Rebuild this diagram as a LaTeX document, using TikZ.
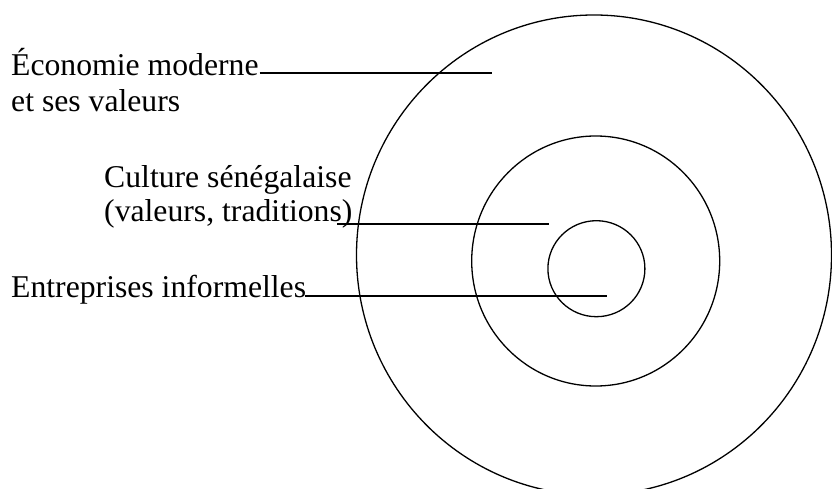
\documentclass[tikz,border=0pt]{standalone}
\usepackage{fontspec}
\setmainfont{Liberation Serif}
\begin{document}
\begin{tikzpicture}[x=1pt,y=-1pt,
  lbl/.style={anchor=base west,inner sep=0pt,font=\fontsize{31.7}{36}\selectfont},
  ring/.style={line width=1.3pt,draw=black},
  leader/.style={line width=2pt,draw=black}]
\useasboundingbox (0,0) rectangle (832,489);
\clip (0,0) rectangle (832,489);
\fill[white] (0,0) rectangle (832,489);
% rings
\draw[ring] (594,255) ellipse [x radius=237.5pt, y radius=240pt];
\draw[ring] (595.7,261) ellipse [x radius=124pt, y radius=125pt];
\draw[ring] (596.4,268.7) ellipse [x radius=48.5pt, y radius=48pt];
% labels
\node[lbl] (eco) at (11,75.7) {Économie moderne};
\node[lbl] (eco2) at (11,112) {et ses valeurs};
\node[lbl] (cul) at (104,187) {Culture sénégalaise};
\node[lbl] (cul2) at (104,222) {(valeurs, traditions)};
\node[lbl] (ent) at (11,297.5) {Entreprises informelles};
% leader end points
\coordinate (l1a) at (259.5,73);
\coordinate (l1b) at (492,73);
\coordinate (l2a) at (337,224);
\coordinate (l2b) at (549,224);
\coordinate (l3a) at (304.5,296);
\coordinate (l3b) at (607,296);
\draw[leader] (l1a) -- (l1b);
\draw[leader] (l2a) -- (l2b);
\draw[leader] (l3a) -- (l3b);
\end{tikzpicture}
\end{document}
